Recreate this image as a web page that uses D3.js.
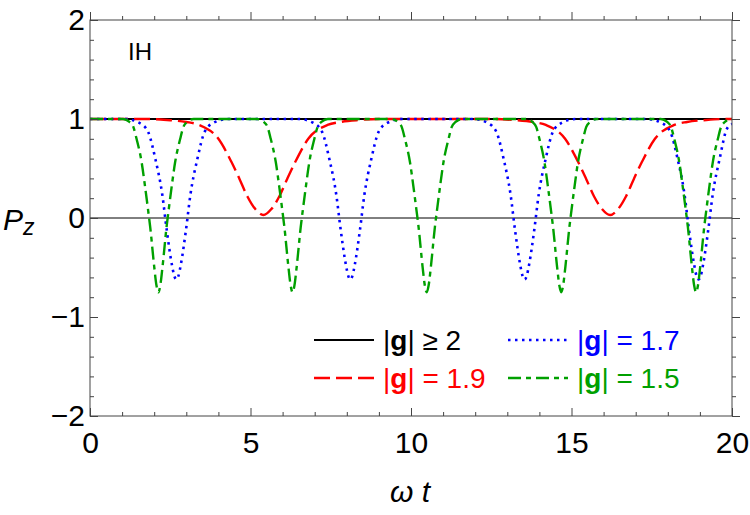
<!DOCTYPE html>
<html>
<head>
<meta charset="utf-8">
<script src="https://cdn.jsdelivr.net/npm/d3@7"></script>
<style>
    body { margin: 0; background: #fff; }
    svg text { font-family: "Liberation Sans", Arial, sans-serif; }
</style>
</head>
<body>
<svg id="chart" width="750" height="515"></svg>
<script>
'use strict';

// |g| >= 2 : stays at 1
const gAbove2X = [0, 20];
const gAbove2Y = [1, 1];

// |g| = 1.9
const g19X = [0, 1.8, 2.4, 3.0, 3.4, 4.0, 4.4, 4.65, 4.9, 5.15, 5.4, 5.65, 5.9, 6.15, 6.4, 6.8, 7.4, 7.8, 8.4, 9.0,
    12.6, 13.2, 13.8, 14.2, 14.8, 15.2, 15.45, 15.7, 15.95, 16.2, 16.45, 16.7, 16.95, 17.2, 17.6, 18.2, 18.6, 19.2, 19.8, 20];
const g19Y = [1, 1, 0.99, 0.97, 0.94, 0.8, 0.57, 0.4, 0.22, 0.09, 0.03, 0.09, 0.22, 0.4, 0.57, 0.8, 0.94, 0.97, 0.99, 1,
    1, 0.99, 0.97, 0.94, 0.8, 0.57, 0.4, 0.22, 0.09, 0.03, 0.09, 0.22, 0.4, 0.57, 0.8, 0.94, 0.97, 0.99, 1, 1];

// |g| = 1.7
const g17X = [0, 1.09, 1.54, 1.81, 2.04, 2.25, 2.39, 2.55, 2.63, 2.69, 2.75, 2.83, 2.99, 3.13, 3.34, 3.57, 3.84, 4.29,
    5.4, 6.51, 6.96, 7.23, 7.46, 7.67, 7.81, 7.97, 8.05, 8.11, 8.17, 8.25, 8.41, 8.55, 8.76, 8.99, 9.26, 9.71,
    10.8, 11.94, 12.39, 12.66, 12.89, 13.1, 13.24, 13.4, 13.48, 13.54, 13.6, 13.68, 13.84, 13.98, 14.19, 14.42, 14.69, 15.14,
    16.2, 17.36, 17.81, 18.08, 18.31, 18.52, 18.66, 18.82, 18.9, 18.96, 19.02, 19.1, 19.26, 19.4, 19.61, 19.84, 20];
const g17Y = [1, 1, 0.96, 0.87, 0.59, 0.24, -0.12, -0.47, -0.59, -0.62, -0.59, -0.47, -0.12, 0.24, 0.59, 0.87, 0.96, 1,
    1, 1, 0.96, 0.87, 0.59, 0.24, -0.12, -0.47, -0.59, -0.62, -0.59, -0.47, -0.12, 0.24, 0.59, 0.87, 0.96, 1,
    1, 1, 0.96, 0.87, 0.59, 0.24, -0.12, -0.47, -0.59, -0.62, -0.59, -0.47, -0.12, 0.24, 0.59, 0.87, 0.96, 1,
    1, 1, 0.96, 0.87, 0.59, 0.24, -0.12, -0.47, -0.59, -0.62, -0.59, -0.47, -0.12, 0.24, 0.59, 0.9, 0.95];

// |g| = 1.5
const g15X = [0, 1.03, 1.23, 1.35, 1.45, 1.61, 1.71, 1.81, 1.875, 2.0, 2.07, 2.13, 2.19, 2.26, 2.385, 2.45, 2.55, 2.65, 2.81, 2.91, 3.03, 3.23,
    4.22, 5.21, 5.41, 5.53, 5.63, 5.79, 5.89, 5.99, 6.055, 6.18, 6.25, 6.31, 6.37, 6.44, 6.565, 6.63, 6.73, 6.83, 6.99, 7.09, 7.21, 7.41,
    8.4, 9.39, 9.59, 9.71, 9.81, 9.97, 10.07, 10.17, 10.235, 10.36, 10.43, 10.49, 10.55, 10.62, 10.745, 10.81, 10.91, 11.01, 11.17, 11.27, 11.39, 11.59,
    12.58, 13.58, 13.78, 13.9, 14.0, 14.16, 14.26, 14.36, 14.425, 14.55, 14.62, 14.68, 14.74, 14.81, 14.935, 15.0, 15.1, 15.2, 15.36, 15.46, 15.58, 15.78,
    16.78, 17.78, 17.98, 18.1, 18.2, 18.36, 18.46, 18.56, 18.625, 18.75, 18.82, 18.88, 18.94, 19.01, 19.135, 19.2, 19.3, 19.4, 19.56, 19.66, 19.78, 19.98, 20];
const g15Y = [1, 1, 0.97, 0.92, 0.8, 0.56, 0.33, 0.08, -0.09, -0.49, -0.68, -0.75, -0.68, -0.49, -0.09, 0.08, 0.33, 0.56, 0.8, 0.92, 0.97, 1,
    1, 1, 0.97, 0.92, 0.8, 0.56, 0.33, 0.08, -0.09, -0.49, -0.68, -0.75, -0.68, -0.49, -0.09, 0.08, 0.33, 0.56, 0.8, 0.92, 0.97, 1,
    1, 1, 0.97, 0.92, 0.8, 0.56, 0.33, 0.08, -0.09, -0.49, -0.68, -0.75, -0.68, -0.49, -0.09, 0.08, 0.33, 0.56, 0.8, 0.92, 0.97, 1,
    1, 1, 0.97, 0.92, 0.8, 0.56, 0.33, 0.08, -0.09, -0.49, -0.68, -0.75, -0.68, -0.49, -0.09, 0.08, 0.33, 0.56, 0.8, 0.92, 0.97, 1,
    1, 1, 0.97, 0.92, 0.8, 0.56, 0.33, 0.08, -0.09, -0.49, -0.68, -0.75, -0.68, -0.49, -0.09, 0.08, 0.33, 0.56, 0.8, 0.92, 0.97, 1, 1];

const xMajor = [0, 5, 10, 15, 20];
const yMajor = [-2, -1, 0, 1, 2];

(function () {
    const series = [
        {name: '≥ 2', op: '', x: gAbove2X, y: gAbove2Y, color: '#000000', dash: null, width: 2},
        {name: '1.9', op: '=', x: g19X, y: g19Y, color: '#ff0000', dash: '16,6', width: 2.4},
        {name: '1.7', op: '=', x: g17X, y: g17Y, color: '#0000ff', dash: '2.5,4.5', width: 2.6},
        {name: '1.5', op: '=', x: g15X, y: g15Y, color: '#00a000', dash: '13,5,5,5', width: 2.4}
    ];

    const margin = {left: 90, right: 732, top: 20, bottom: 416};

    const svg = d3.select('#chart');

    const x = d3.scaleLinear().domain([0, 20]).range([margin.left, margin.right]);
    const y = d3.scaleLinear().domain([-2, 2]).range([margin.bottom, margin.top]);

    svg.append('defs').append('clipPath')
        .attr('id', 'plot-clip')
        .append('rect')
        .attr('x', margin.left).attr('y', margin.top)
        .attr('width', margin.right - margin.left).attr('height', margin.bottom - margin.top);

    // zero line
    svg.append('line')
        .attr('x1', margin.left).attr('x2', margin.right)
        .attr('y1', y(0)).attr('y2', y(0))
        .attr('stroke', '#000').attr('stroke-width', 1);

    const line = d3.line()
        .x(d => x(d[0]))
        .y(d => y(d[1]))
        .curve(d3.curveMonotoneX);

    const curves = svg.append('g').attr('clip-path', 'url(#plot-clip)');

    series.forEach(s => {
        curves.append('path')
            .datum(s.x.map((v, i) => [v, s.y[i]]))
            .attr('d', line)
            .attr('fill', 'none')
            .attr('stroke', s.color)
            .attr('stroke-width', s.width)
            .attr('stroke-dasharray', s.dash);
    });

    // axes with inward ticks on all four sides
    function styleAxis(g, labels) {
        g.select('.domain').remove();
        g.selectAll('line').attr('stroke', '#444').attr('stroke-width', 1);
        if (labels) {
            g.selectAll('text')
                .attr('fill', '#000')
                .style('font-size', '30px');
        } else {
            g.selectAll('text').remove();
        }
    }

    const xMinor = d3.range(0, 21, 1).filter(v => v % 5 !== 0);
    const yMinor = d3.range(-2, 2.01, 0.2).map(v => +v.toFixed(1)).filter(v => Math.abs(v - Math.round(v)) > 1e-6);

    [[d3.axisBottom, margin.bottom, true], [d3.axisTop, margin.top, false]].forEach(([ax, pos, lab]) => {
        const sign = ax === d3.axisBottom ? -1 : 1;
        svg.append('g')
            .attr('transform', `translate(0,${pos})`)
            .call(ax(x).tickValues(xMinor).tickSize(sign * 4))
            .call(g => styleAxis(g, false));
        svg.append('g')
            .attr('transform', `translate(0,${pos})`)
            .call(ax(x).tickValues(xMajor).tickSize(sign * 8).tickPadding(lab ? 16 : 0).tickFormat(d3.format('d')))
            .call(g => styleAxis(g, lab));
    });

    [[d3.axisLeft, margin.left, true], [d3.axisRight, margin.right, false]].forEach(([ax, pos, lab]) => {
        const sign = ax === d3.axisLeft ? -1 : 1;
        svg.append('g')
            .attr('transform', `translate(${pos},0)`)
            .call(ax(y).tickValues(yMinor).tickSize(sign * 4))
            .call(g => styleAxis(g, false));
        svg.append('g')
            .attr('transform', `translate(${pos},0)`)
            .call(ax(y).tickValues(yMajor).tickSize(sign * 8).tickPadding(lab ? 5 : 0).tickFormat(d3.format('d')))
            .call(g => styleAxis(g, lab));
    });

    svg.append('rect')
        .attr('x', margin.left).attr('y', margin.top)
        .attr('width', margin.right - margin.left).attr('height', margin.bottom - margin.top)
        .attr('fill', 'none').attr('stroke', '#444').attr('stroke-width', 1);

    // panel label
    svg.append('text')
        .attr('x', 128).attr('y', 60)
        .style('font-size', '24px')
        .text('IH');

    // axis titles
    const yTitle = svg.append('text')
        .attr('x', 3).attr('y', 230)
        .style('font-size', '30px')
        .style('font-style', 'italic');
    yTitle.append('tspan').text('P');
    yTitle.append('tspan').attr('dy', 5).style('font-size', '23px').text('z');

    svg.append('text')
        .attr('x', 410).attr('y', 502)
        .attr('text-anchor', 'middle')
        .style('font-size', '30px')
        .style('font-style', 'italic')
        .text('ω t');

    // legend
    const legendPos = [[314, 340], [314, 378], [508, 340], [508, 378]];
    series.forEach((s, i) => {
        const [lx, ly] = legendPos[i];
        svg.append('line')
            .attr('x1', lx).attr('x2', lx + 60)
            .attr('y1', ly).attr('y2', ly)
            .attr('stroke', s.color)
            .attr('stroke-width', s.width)
            .attr('stroke-dasharray', s.dash);
        const t = svg.append('text')
            .attr('x', lx + 69).attr('y', ly + 10)
            .attr('fill', s.color)
            .style('font-size', '28px');
        t.append('tspan').text('|');
        t.append('tspan').style('font-weight', 'bold').text('g');
        t.append('tspan').text('| ' + (s.op ? s.op + ' ' : '') + s.name);
    });
})();
</script>
</body>
</html>
